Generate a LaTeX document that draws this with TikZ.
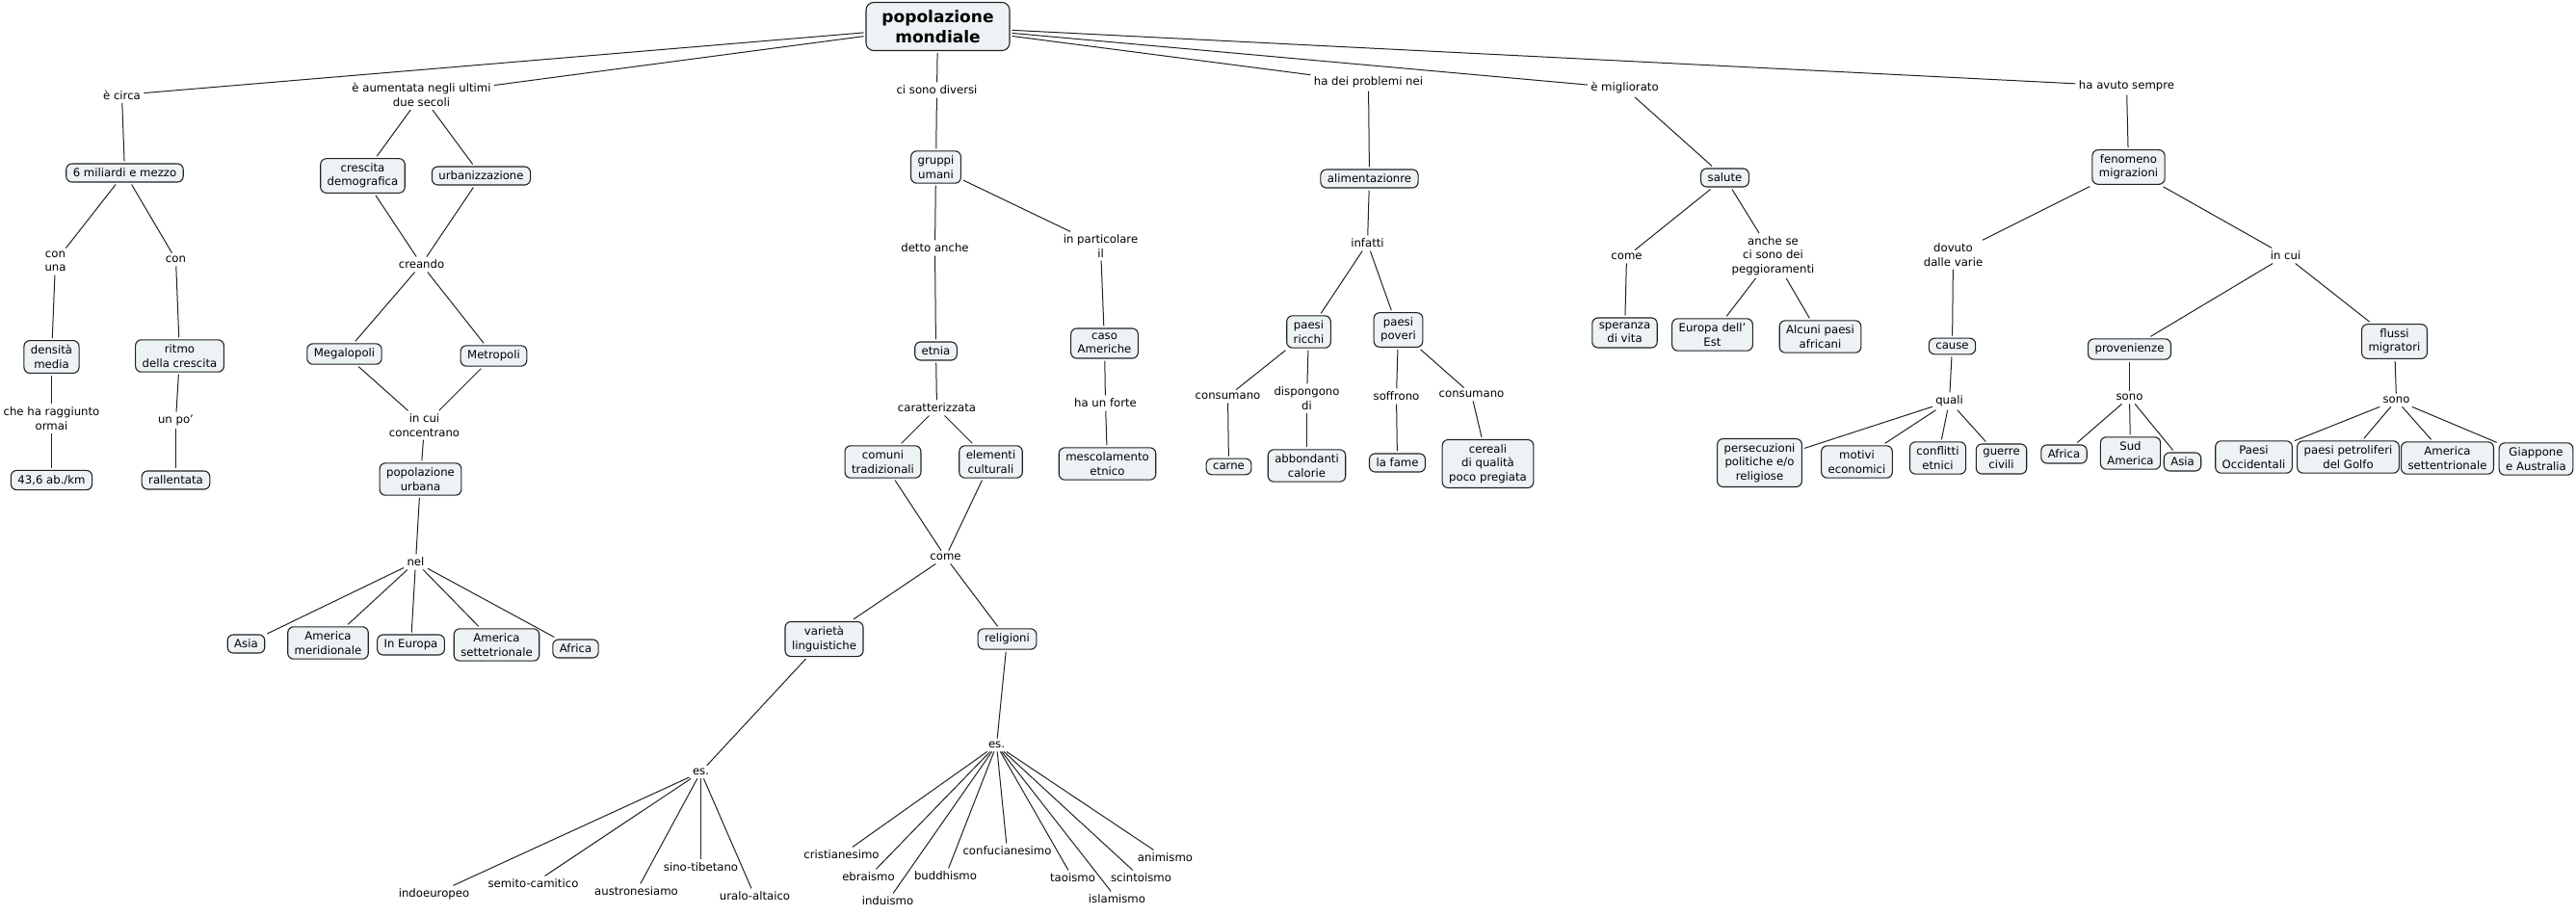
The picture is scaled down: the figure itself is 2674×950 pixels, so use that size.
\documentclass[tikz,border=0pt]{standalone}
\usepackage{fontspec}
\setmainfont{DejaVu Sans}
\definecolor{boxfill}{HTML}{EDF2F5}
\definecolor{edge}{HTML}{222222}
\tikzset{
  x=1pt, y=-1pt,
  concept/.style={draw=edge, fill=boxfill, rounded corners=6pt, line width=1.1pt,
    inner xsep=7pt, inner ysep=5pt, align=center, outer sep=2.5pt,
    font=\fontsize{11.7}{14.3}\selectfont},
  rootbox/.style={concept, rounded corners=8pt, font=\fontsize{17}{21}\selectfont\bfseries,
    minimum width=149pt, minimum height=50pt},
  link/.style={inner sep=1.5pt, align=center, outer sep=2pt,
    font=\fontsize{11.7}{14.3}\selectfont},
  conn/.style={line width=1pt, draw=edge}
}
\begin{document}
\begin{tikzpicture}
\useasboundingbox[fill=white] (0,0) rectangle (2674,950);
\begin{scope}[xshift=0.5pt, yshift=-0.5pt]
% root
\node[rootbox] (root) at (973,27) {popolazione\\mondiale};
% first level links
\node[link] (circa) at (126,98) {è circa};
\node[link] (aument) at (437,98) {è aumentata negli ultimi\\due secoli};
\node[link] (cisono) at (972,93) {ci sono diversi};
\node[link] (hadei) at (1420,85) {ha dei problemi nei};
\node[link] (migl) at (1686,91) {è migliorato};
\node[link] (avuto) at (2207,89) {ha avuto sempre};
% branch 1
\node[concept] (sei) at (129,179) {6 miliardi e mezzo};
\node[link] (conuna) at (57,271) {con\\una};
\node[link] (con) at (182,269) {con};
\node[concept] (densita) at (53,370) {densità\\media};
\node[link] (cheha) at (53,434) {che ha raggiunto\\ormai};
\node[concept] (ab) at (53,498) {43,6 ab./km};
\node[concept] (ritmo) at (186,369) {ritmo\\della crescita};
\node[link] (unpo) at (182,436) {un po'};
\node[concept] (rall) at (182,498) {rallentata};
% branch 2
\node[concept] (crescita) at (376,182) {crescita\\demografica};
\node[concept] (urban) at (499,182) {urbanizzazione};
\node[link] (creando) at (437,274) {creando};
\node[concept] (megal) at (357,367) {Megalopoli};
\node[concept] (metrop) at (512,369) {Metropoli};
\node[link] (incuic) at (440,441) {in cui\\concentrano};
\node[concept] (popurb) at (436,497) {popolazione\\urbana};
\node[link] (nel) at (431,583) {nel};
\node[concept] (asia) at (255,668) {Asia};
\node[concept] (amermer) at (340,667) {America\\meridionale};
\node[concept] (europa) at (426,669) {In Europa};
\node[concept] (amersett) at (515,669) {America\\settetrionale};
\node[concept] (africa) at (597,673) {Africa};
% branch 3
\node[concept] (gruppi) at (971,173) {gruppi\\umani};
\node[link] (detto) at (970,257) {detto anche};
\node[concept] (etnia) at (971,364) {etnia};
\node[link] (caratt) at (972,423) {caratterizzata};
\node[concept] (comuni) at (916,479) {comuni\\tradizionali};
\node[concept] (elementi) at (1028,479) {elementi\\culturali};
\node[link] (come) at (981,578) {come};
\node[concept] (varieta) at (855,663) {varietà\\linguistiche};
\node[concept] (relig) at (1045,663) {religioni};
\node[link] (esl) at (727,801) {es.};
\node[link] (indo) at (450,928) {indoeuropeo};
\node[link] (semito) at (553,917) {semito-camitico};
\node[link] (austro) at (660,925) {austronesiamo};
\node[link] (sino) at (727,900) {sino-tibetano};
\node[link] (uralo) at (783,930) {uralo-altaico};
\node[link] (esr) at (1034,773) {es.};
\node[link] (crist) at (873,887) {cristianesimo};
\node[link] (ebra) at (901,910) {ebraismo};
\node[link] (indu) at (921,935) {induismo};
\node[link] (budd) at (981,909) {buddhismo};
\node[link] (conf) at (1045,883) {confucianesimo};
\node[link] (tao) at (1113,911) {taoismo};
\node[link] (islam) at (1159,933) {islamismo};
\node[link] (scint) at (1184,911) {scintoismo};
\node[link] (anim) at (1209,890) {animismo};
\node[link] (inpart) at (1142,255) {in particolare\\il};
\node[concept] (caso) at (1146,356) {caso\\Americhe};
\node[link] (haforte) at (1147,418) {ha un forte};
\node[concept] (mescol) at (1149,481) {mescolamento\\etnico};
% branch 4
\node[concept] (alim) at (1421,185) {alimentazionre};
\node[link] (infatti) at (1419,252) {infatti};
\node[concept] (ricchi) at (1358,344) {paesi\\ricchi};
\node[concept] (poveri) at (1451,342) {paesi\\poveri};
\node[link] (cons1) at (1274,411) {consumano};
\node[link] (disp) at (1356,413) {dispongono\\di};
\node[concept] (carne) at (1275,484) {carne};
\node[concept] (abbond) at (1356,483) {abbondanti\\calorie};
\node[link] (soff) at (1449,411) {soffrono};
\node[link] (cons2) at (1527,409) {consumano};
\node[concept] (fame) at (1450,480) {la fame};
\node[concept] (cereali) at (1544,481) {cereali\\di qualità\\poco pregiata};
% branch 5
\node[concept] (salute) at (1790,184) {salute};
\node[link] (comes) at (1688,266) {come};
\node[link] (anche) at (1840,265) {anche se\\ci sono dei\\peggioramenti};
\node[concept] (speranza) at (1686,345) {speranza\\di vita};
\node[concept] (europaest) at (1777,347) {Europa dell'\\Est};
\node[concept] (alcuni) at (1889,349) {Alcuni paesi\\africani};
% branch 6
\node[concept] (fenomeno) at (2209,173) {fenomeno\\migrazioni};
\node[link] (dovuto) at (2027,264) {dovuto\\dalle varie};
\node[concept] (cause) at (2026,359) {cause};
\node[link] (quali) at (2023,416) {quali};
\node[concept] (persec) at (1826,480) {persecuzioni\\politiche e/o\\religiose};
\node[concept] (motivi) at (1927,479) {motivi\\economici};
\node[concept] (conflitti) at (2011,475) {conflitti\\etnici};
\node[concept] (guerre) at (2077,476) {guerre\\civili};
\node[link] (incuim) at (2372,265) {in cui};
\node[concept] (proven) at (2210,362) {provenienze};
\node[concept] (flussi) at (2485,354) {flussi\\migratori};
\node[link] (sono1) at (2210,412) {sono};
\node[concept] (africa2) at (2142,471) {Africa};
\node[concept] (sudam) at (2211,470) {Sud\\America};
\node[concept] (asia2) at (2265,479) {Asia};
\node[link] (sono2) at (2487,415) {sono};
\node[concept] (paesiocc) at (2339,474) {Paesi\\Occidentali};
\node[concept] (petrol) at (2437,474) {paesi petroliferi\\del Golfo};
\node[concept] (amsett2) at (2540,475) {America\\settentrionale};
\node[concept] (giapp) at (2632,476) {Giappone\\e Australia};
% connectors
\begin{scope}[conn]
\draw (root) -- (circa);
\draw (root) -- (aument);
\draw (root) -- (cisono);
\draw (root) -- (hadei);
\draw (root) -- (migl);
\draw (root) -- (avuto);
\draw (circa) -- (sei);
\draw (sei) -- (conuna);
\draw (conuna) -- (densita);
\draw (densita) -- (cheha);
\draw (cheha) -- (ab);
\draw (sei) -- (con);
\draw (con) -- (ritmo);
\draw (ritmo) -- (unpo);
\draw (unpo) -- (rall);
\draw (aument) -- (crescita);
\draw (aument) -- (urban);
\draw (crescita) -- (creando);
\draw (urban) -- (creando);
\draw (creando) -- (megal);
\draw (creando) -- (metrop);
\draw (megal) -- (incuic);
\draw (metrop) -- (incuic);
\draw (incuic) -- (popurb);
\draw (popurb) -- (nel);
\foreach \t in {asia,amermer,europa,amersett,africa} \draw (nel) -- (\t);
\draw (cisono) -- (gruppi);
\draw (gruppi) -- (detto);
\draw (detto) -- (etnia);
\draw (etnia) -- (caratt);
\draw (caratt) -- (comuni);
\draw (caratt) -- (elementi);
\draw (comuni) -- (come);
\draw (elementi) -- (come);
\draw (come) -- (varieta);
\draw (come) -- (relig);
\draw (varieta) -- (esl);
\foreach \t in {indo,semito,austro,sino,uralo} \draw (esl) -- (\t);
\draw (relig) -- (esr);
\foreach \t in {crist,ebra,indu,budd,conf,tao,islam,scint,anim} \draw (esr) -- (\t);
\draw (gruppi) -- (inpart);
\draw (inpart) -- (caso);
\draw (caso) -- (haforte);
\draw (haforte) -- (mescol);
\draw (hadei) -- (alim);
\draw (alim) -- (infatti);
\draw (infatti) -- (ricchi);
\draw (infatti) -- (poveri);
\draw (ricchi) -- (cons1);
\draw (cons1) -- (carne);
\draw (ricchi) -- (disp);
\draw (disp) -- (abbond);
\draw (poveri) -- (soff);
\draw (soff) -- (fame);
\draw (poveri) -- (cons2);
\draw (cons2) -- (cereali);
\draw (migl) -- (salute);
\draw (salute) -- (comes);
\draw (comes) -- (speranza);
\draw (salute) -- (anche);
\draw (anche) -- (europaest);
\draw (anche) -- (alcuni);
\draw (avuto) -- (fenomeno);
\draw (fenomeno) -- (dovuto);
\draw (dovuto) -- (cause);
\draw (cause) -- (quali);
\foreach \t in {persec,motivi,conflitti,guerre} \draw (quali) -- (\t);
\draw (fenomeno) -- (incuim);
\draw (incuim) -- (proven);
\draw (incuim) -- (flussi);
\draw (proven) -- (sono1);
\foreach \t in {africa2,sudam,asia2} \draw (sono1) -- (\t);
\draw (flussi) -- (sono2);
\foreach \t in {paesiocc,petrol,amsett2,giapp} \draw (sono2) -- (\t);
\end{scope}
\end{scope}
\end{tikzpicture}
\end{document}
